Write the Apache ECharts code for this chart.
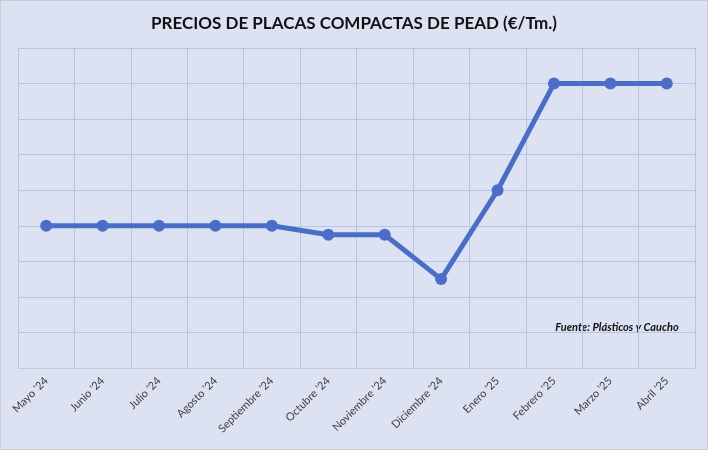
<!DOCTYPE html>
<html lang="es">

<head>
  <meta charset="UTF-8">
  <title>Precios de placas compactas de PEAD</title>
  <script src="https://cdn.jsdelivr.net/npm/echarts@6/dist/echarts.min.js"></script>
  <style>
    html, body { margin: 0; padding: 0; background: #dde2f3; }
    #chart { width: 708px; height: 450px; box-sizing: border-box; border: 1px solid #c9ccd4; }
  </style>
</head>

<body>
  <div id="chart"></div>
  <script>
    // meses (eje X)
    var months = ['Mayo \'24', 'Junio \'24', 'Julio \'24', 'Agosto \'24', 'Septiembre \'24', 'Octubre \'24',
      'Noviembre \'24', 'Diciembre \'24', 'Enero \'25', 'Febrero \'25', 'Marzo \'25', 'Abril \'25'];
    // precio, leído en divisiones de la cuadrícula (el original no muestra etiquetas)
    var prices = [4, 4, 4, 4, 4, 3.75, 3.75, 2.5, 5, 8, 8, 8];
    var yMin = 0, yMax = 9, yStep = 1;

    var chart = echarts.init(document.getElementById('chart'));
    chart.setOption({
      backgroundColor: '#dde2f3',
      textStyle: { fontFamily: 'Lato' },
      title: {
        text: 'PRECIOS DE PLACAS COMPACTAS DE PEAD (€/Tm.)',
        left: 'center',
        top: 9,
        textStyle: { fontSize: 17, fontWeight: 'bold', color: '#111', fontFamily: 'Lato' }
      },
      grid: { left: 17, right: 12, top: 47, bottom: 81 },
      xAxis: {
        type: 'category',
        data: months,
        boundaryGap: true,
        axisLine: { show: true, lineStyle: { color: '#c5cbe0', width: 1 } },
        axisTick: { show: false },
        splitLine: { show: true, lineStyle: { color: '#b4c6e8', width: 1 } },
        axisLabel: { rotate: 45, fontSize: 11, color: '#404040', margin: 11, interval: 0 }
      },
      yAxis: {
        type: 'value',
        min: yMin,
        max: yMax,
        interval: yStep,
        axisLine: { show: false },
        axisTick: { show: false },
        axisLabel: { show: false },
        splitLine: { lineStyle: { color: '#b4c6e8', width: 1 } }
      },
      series: [{
        type: 'line',
        data: prices,
        symbol: 'circle',
        symbolSize: 12,
        lineStyle: { color: '#4a6ec8', width: 5 },
        itemStyle: { color: '#4a6ec8' },
        z: 3
      }],
      graphic: [{
        type: 'group',
        left: 544,
        top: 312,
        children: [{
          type: 'rect',
          shape: { width: 145, height: 28 },
          style: { fill: '#dde2f3' }
        }, {
          type: 'text',
          x: 72,
          y: 14,
          style: {
            text: 'Fuente: Plásticos y Caucho',
            fontFamily: 'Lato',
            fontSize: 11,
            fontWeight: 'bold',
            fontStyle: 'italic',
            fill: '#111',
            align: 'center',
            verticalAlign: 'middle'
          }
        }]
      }]
    });
  </script>
</body>

</html>
